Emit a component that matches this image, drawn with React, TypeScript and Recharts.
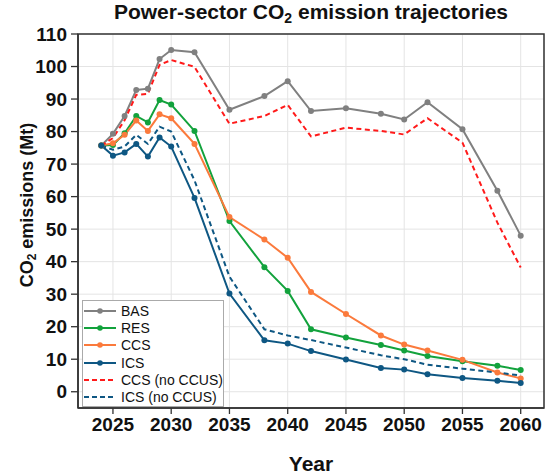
import React from "react";
import {
  CartesianGrid,
  Label,
  Legend,
  Line,
  LineChart,
  ReferenceArea,
  XAxis,
  YAxis,
} from "recharts";

const years = [2024, 2025, 2026, 2027, 2028, 2029, 2030, 2032, 2035, 2038, 2040, 2042, 2045, 2048, 2050, 2052, 2055, 2058, 2060];

const bas = [75.7, 79.3, 84.8, 92.8, 93.2, 102.3, 105.1, 104.4, 86.7, 90.9, 95.5, 86.3, 87.2, 85.5, 83.7, 89.0, 80.7, 61.8, 48.0];
const res = [75.7, 75.9, 79.5, 84.8, 82.8, 89.7, 88.3, 80.2, 52.5, 38.3, 31.0, 19.2, 16.7, 14.4, 12.7, 11.0, 9.4, 8.0, 6.7];
const ccs = [75.7, 76.4, 79.0, 83.4, 80.2, 85.3, 84.1, 76.2, 53.7, 46.8, 41.2, 30.7, 23.9, 17.3, 14.5, 12.7, 9.8, 5.9, 4.1];
const ics = [75.7, 72.6, 73.6, 76.2, 72.3, 78.2, 75.4, 59.6, 30.2, 15.8, 14.8, 12.5, 9.9, 7.3, 6.8, 5.4, 4.2, 3.4, 2.7];
const ccsNoCcus = [75.7, 78.0, 83.5, 91.3, 91.6, 100.5, 102.0, 99.9, 82.4, 84.8, 88.2, 78.5, 81.2, 80.2, 79.1, 84.1, 76.6, 52.0, 38.2];
const icsNoCcus = [75.7, 74.4, 75.4, 79.0, 76.2, 81.5, 80.0, 65.0, 35.4, 19.2, 17.3, 15.9, 13.6, 11.2, 10.0, 8.3, 7.1, 5.9, 5.0];

const xTicks = [2025, 2030, 2035, 2040, 2045, 2050, 2055, 2060];
const yTicks = [0, 10, 20, 30, 40, 50, 60, 70, 80, 90, 100, 110];

const data = years.map((year, i) => ({
  year,
  bas: bas[i],
  res: res[i],
  ccs: ccs[i],
  ics: ics[i],
  ccsNo: ccsNoCcus[i],
  icsNo: icsNoCcus[i],
}));

const series = [
  { key: "bas", name: "BAS", color: "#808080", dashed: false },
  { key: "res", name: "RES", color: "#12a23c", dashed: false },
  { key: "ccs", name: "CCS", color: "#fb7a3c", dashed: false },
  { key: "ics", name: "ICS", color: "#0e5783", dashed: false },
  { key: "ccsNo", name: "CCS (no CCUS)", color: "#ff1a1a", dashed: true },
  { key: "icsNo", name: "ICS (no CCUS)", color: "#0e5783", dashed: true },
];

const font = "'Liberation Sans', Arial, sans-serif";
const tickStyle = { fill: "#111", fontSize: 19, fontWeight: 700, fontFamily: font };

function LegendBox() {
  return (
    <div
      style={{
        width: 142,
        height: 107,
        border: "1.5px solid #aaa",
        background: "#fff",
        boxSizing: "border-box",
        paddingTop: 1,
        fontFamily: font,
        fontSize: 14,
        color: "#111",
        whiteSpace: "nowrap",
        overflow: "visible",
      }}
    >
      {series.map((s) => (
        <div key={s.key} style={{ display: "flex", alignItems: "center", height: 17.3 }}>
          <svg width={34} height={10} style={{ marginLeft: 0, flex: "none" }}>
            <line
              x1={1}
              x2={33}
              y1={5}
              y2={5}
              stroke={s.color}
              strokeWidth={2}
              strokeDasharray={s.dashed ? "5 3" : undefined}
            />
            {!s.dashed && <circle cx={17} cy={5} r={2.8} fill={s.color} />}
          </svg>
          <span style={{ marginLeft: 4 }}>{s.name}</span>
        </div>
      ))}
    </div>
  );
}

export default function App() {
  return (
    <div style={{ position: "absolute", left: 0, top: 0, width: 550, height: 476, background: "#fff" }}>
      <div
        style={{
          position: "absolute",
          left: 78,
          width: 466,
          top: 0,
          textAlign: "center",
          fontFamily: font,
          fontWeight: 700,
          fontSize: 21,
          color: "#111",
          whiteSpace: "nowrap",
        }}
      >
        Power-sector CO<sub style={{ fontSize: 14, verticalAlign: -4, lineHeight: 0 }}>2</sub> emission trajectories
      </div>
      <LineChart width={550} height={476} data={data} margin={{ top: 34, right: 6, bottom: 0, left: 0 }}>
        <CartesianGrid stroke="#e4e4e4" strokeWidth={1} />
        <XAxis
          dataKey="year"
          type="number"
          domain={[2022, 2062]}
          ticks={xTicks}
          interval={0}
          allowDataOverflow
          height={68}
          tick={tickStyle}
          tickSize={6}
          tickMargin={4}
          axisLine={{ stroke: "#333", strokeWidth: 1.5 }}
          tickLine={{ stroke: "#333", strokeWidth: 1.3 }}
        >
          <Label
            value="Year"
            position="insideBottom"
            offset={5}
            style={{ fill: "#111", fontSize: 21, fontWeight: 700, fontFamily: font }}
          />
        </XAxis>
        <YAxis
          type="number"
          domain={[-5, 110]}
          ticks={yTicks}
          interval={0}
          allowDataOverflow
          width={78}
          tick={tickStyle}
          tickSize={7}
          tickMargin={4}
          axisLine={{ stroke: "#333", strokeWidth: 1.5 }}
          tickLine={{ stroke: "#333", strokeWidth: 1.3 }}
        >
          <Label
            angle={-90}
            position="insideLeft"
            offset={0}
            content={() => {
              const cx = 27;
              const cy = 205;
              return (
                <text
                  x={cx}
                  y={cy}
                  transform={`rotate(-90 ${cx} ${cy})`}
                  textAnchor="middle"
                  dominantBaseline="central"
                  style={{ fill: "#111", fontSize: 18, fontWeight: 700, fontFamily: font }}
                >
                  CO
                  <tspan fontSize={12} dy={5}>2</tspan>
                  <tspan dy={-5}> emissions (Mt)</tspan>
                </text>
              );
            }}
          />
        </YAxis>
        <ReferenceArea x1={2022} x2={2062} y1={-5} y2={110} fill="none" stroke="#333" strokeWidth={1.5} ifOverflow="extendDomain" />
        {series.map((s) => (
          <Line
            key={s.key}
            dataKey={s.key}
            name={s.name}
            type="linear"
            stroke={s.color}
            strokeWidth={2}
            strokeDasharray={s.dashed ? "5 3.5" : undefined}
            dot={s.dashed ? false : { r: 3, fill: s.color, stroke: s.color, strokeWidth: 0 }}
            activeDot={false}
            isAnimationActive={false}
          />
        ))}
        <Legend
          layout="vertical"
          verticalAlign="middle"
          align="center"
          wrapperStyle={{ left: 82, top: 300, width: 142, margin: 0 }}
          content={() => <LegendBox />}
        />
      </LineChart>
    </div>
  );
}
